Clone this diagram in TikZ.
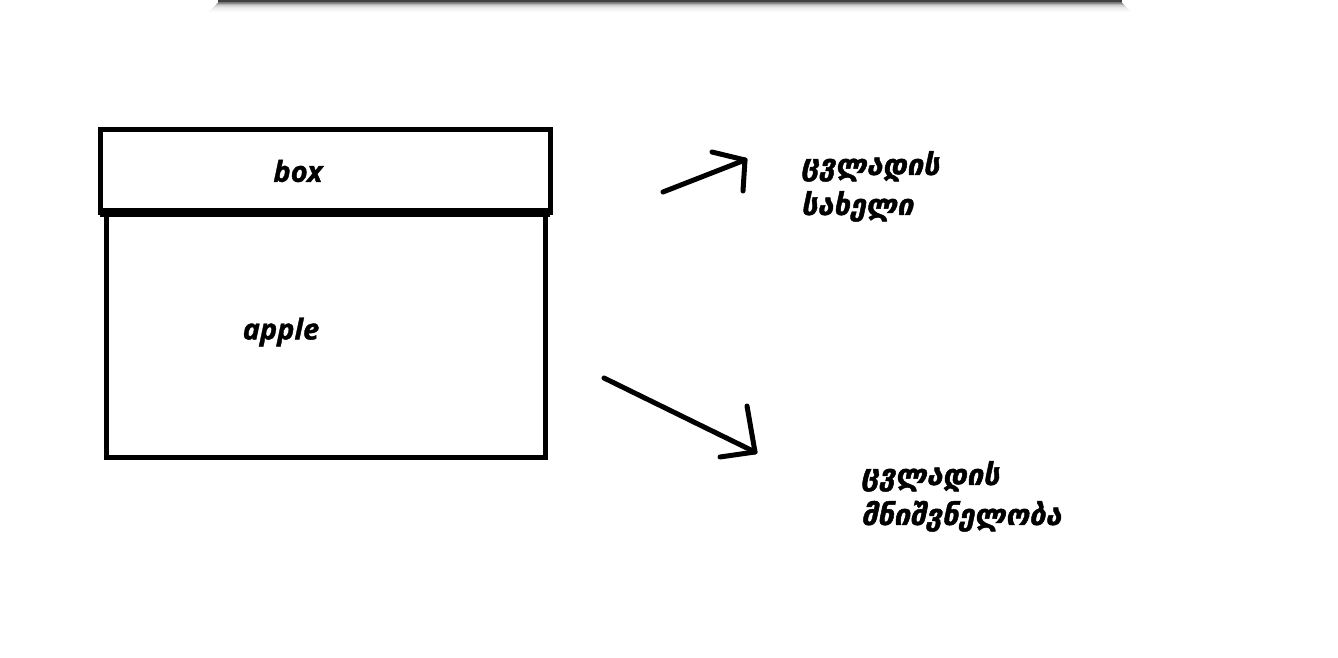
\documentclass[tikz,border=0pt]{standalone}
\usepackage{fontspec}
\setmainfont{Open Sans}
\newfontfamily\latfont[FakeBold=1.2]{Open Sans}
\newfontfamily\geofont[FakeBold=1.6]{DejaVu Sans}
\begin{document}
\begin{tikzpicture}[x=1pt,y=-1pt,
  frame/.style={draw=black,line width=5pt},
  latin/.style={font=\fontsize{29}{32}\selectfont\latfont\bfseries\itshape},
  geo/.style={font=\fontsize{29}{40}\selectfont\geofont\bfseries\itshape,align=left,anchor=north west,inner sep=0pt},
  pen/.style={draw=black,line width=5pt,line cap=round,line join=round}]
\useasboundingbox (0,0) rectangle (1338,658);
% top bar with shadow
\foreach \i/\c in {0/55,1/45,2/30,3/20,4/14,5/10,6/7,7/5,8/3,9/2}{
  \fill[black!\c] (218-\i,2+\i) rectangle (1122+\i,3+\i);
}
\fill[black!75] (218,0) rectangle (1122,2.5);
% box
\draw[frame] (100,130) rectangle (550,212);
\draw[frame] (106,212) rectangle (545,457);
\draw[draw=black,line width=9pt] (100,212) -- (550,212);
\node[latin] (boxlbl) at (298,171) {box};
\node[latin] (applbl) at (281,332) {apple};
% arrow 1
\coordinate (a1s) at (663,192);
\coordinate (a1e) at (745,160);
\coordinate (a1h) at (712,152);
\coordinate (a1t) at (743,191);
\draw[pen] (a1s) -- (a1e);
\draw[pen] (a1h) -- (a1e) -- (a1t);
% arrow 2
\coordinate (a2s) at (604,378);
\coordinate (a2e) at (755,452);
\coordinate (a2h) at (747,406);
\coordinate (a2t) at (720,457);
\draw[pen] (a2s) -- (a2e);
\draw[pen] (a2h) -- (a2e) -- (a2t);
% labels
\node[geo] (name) at (801,151) {ცვლადის\\სახელი};
\node[geo] (value) at (861,461) {ცვლადის\\მნიშვნელობა};
\end{tikzpicture}
\end{document}
